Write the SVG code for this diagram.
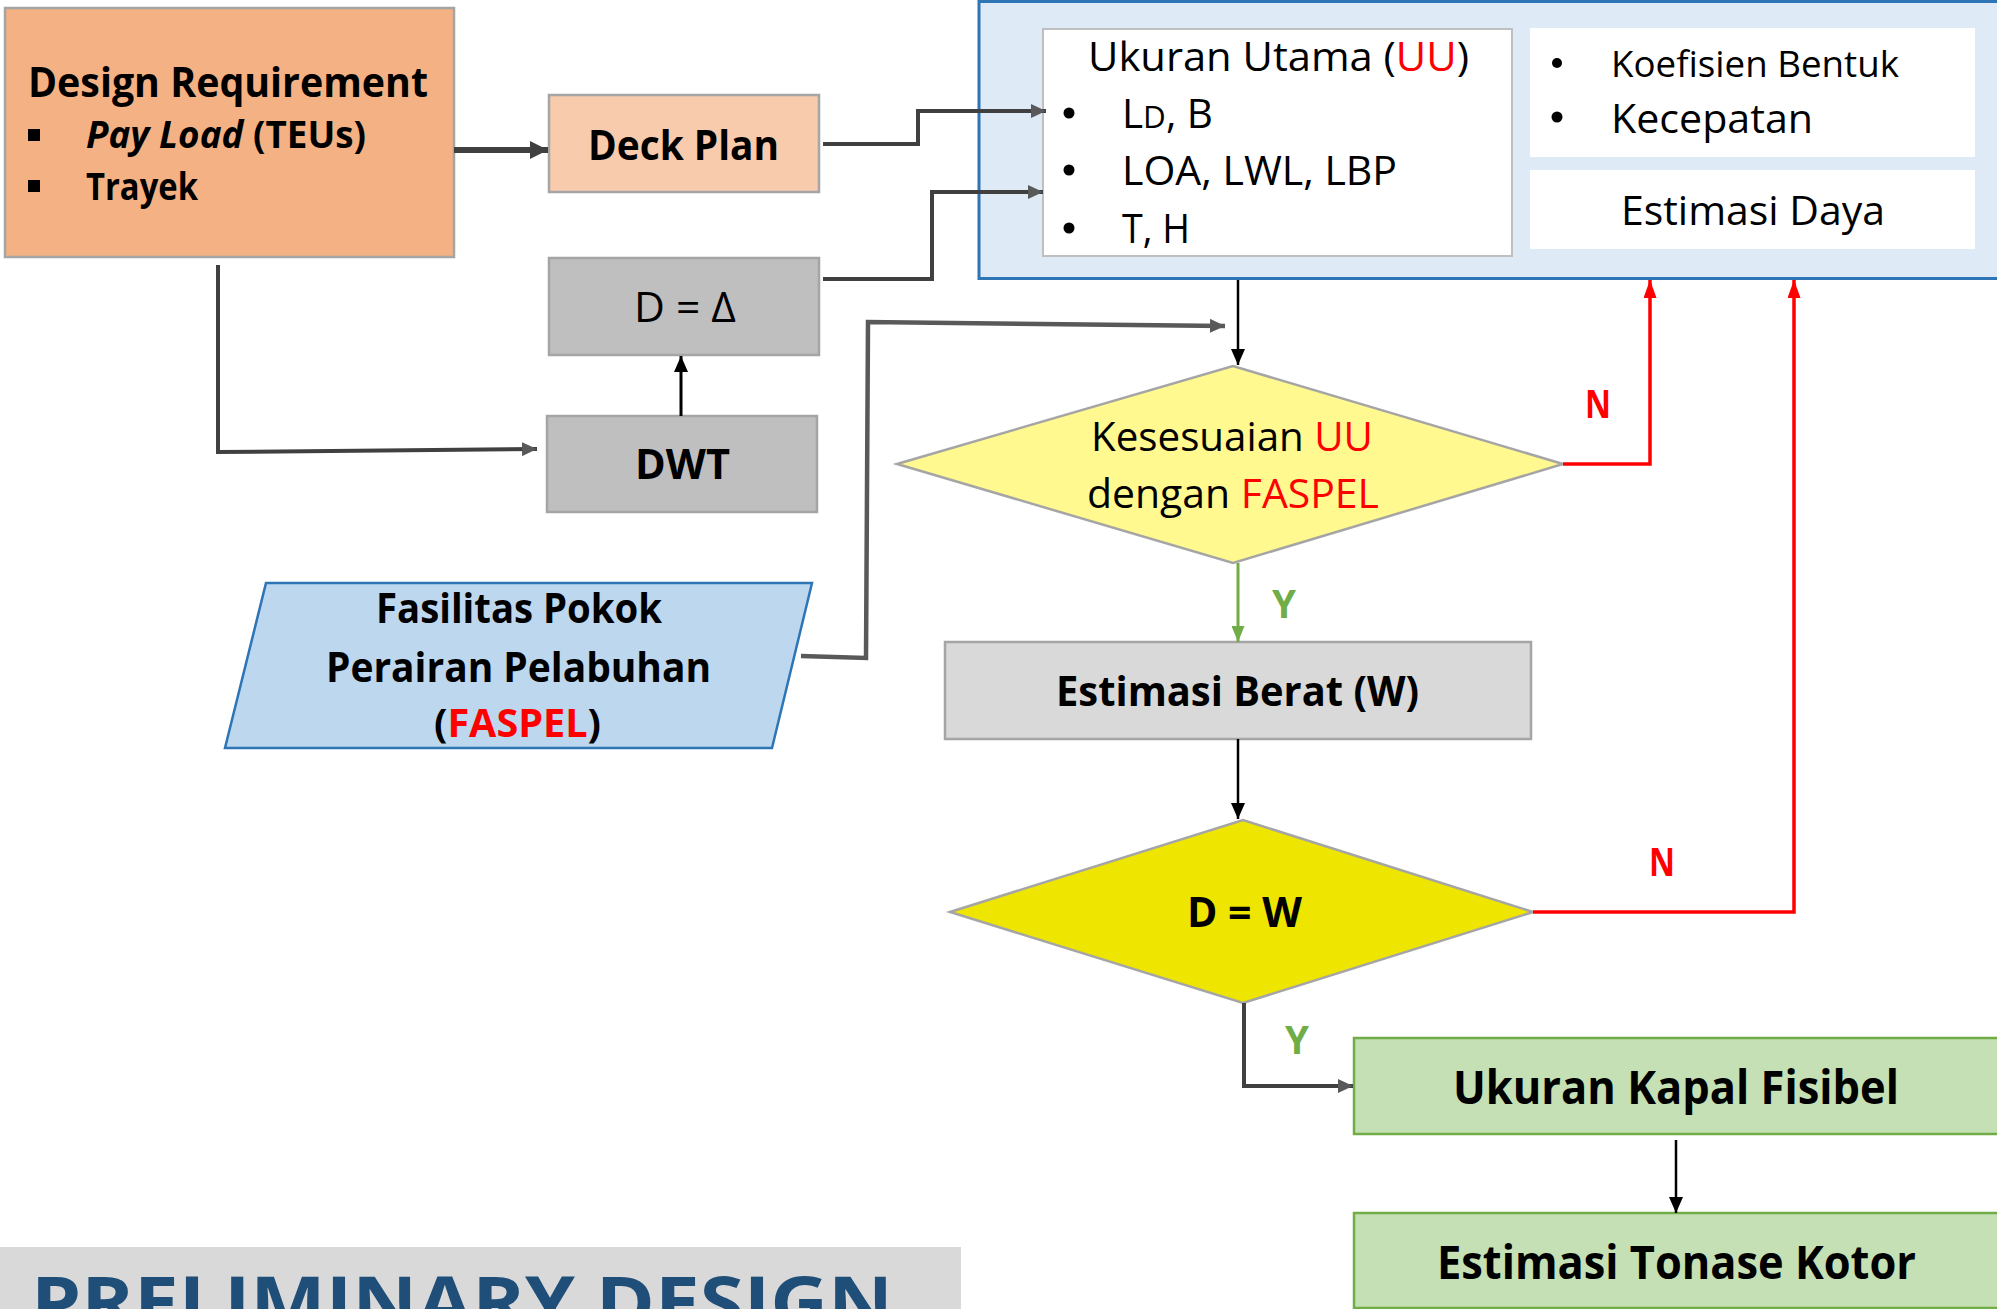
<svg xmlns="http://www.w3.org/2000/svg" width="1997" height="1309" viewBox="0 0 1997 1309">
<style>
text{font-family:"Open Sans","Noto Sans","Liberation Sans",sans-serif;fill:#000}
.b{font-weight:bold}
.red{fill:#FF0000}
.grn{fill:#70AD47}
.box{stroke:#A5A5A5;stroke-width:2.5}
.c{fill:none;stroke-linejoin:miter}
</style>
<defs>
<marker id="aBlk" markerUnits="userSpaceOnUse" markerWidth="16" markerHeight="14" refX="16" refY="7" orient="auto"><path d="M0,0 L16,7 L0,14 z" fill="#000"/></marker>
<marker id="aGry" markerUnits="userSpaceOnUse" markerWidth="18" markerHeight="18" refX="18" refY="9" orient="auto"><path d="M0,0 L18,9 L0,18 z" fill="#404040"/></marker>
<marker id="aGry2" markerUnits="userSpaceOnUse" markerWidth="15" markerHeight="14" refX="15" refY="7" orient="auto"><path d="M0,0 L15,7 L0,14 z" fill="#595959"/></marker>
<marker id="aRed" markerUnits="userSpaceOnUse" markerWidth="18" markerHeight="13" refX="18" refY="6.5" orient="auto"><path d="M0,0 L18,6.5 L0,13 z" fill="#FF0000"/></marker>
<marker id="aGrn" markerUnits="userSpaceOnUse" markerWidth="16" markerHeight="13" refX="16" refY="6.5" orient="auto"><path d="M0,0 L16,6.5 L0,13 z" fill="#70AD47"/></marker>
</defs>
<rect width="1997" height="1309" fill="#fff"/>

<g id="design-requirement">
<rect x="5" y="8" width="449" height="249" fill="#F4B183" class="box"/>
<text x="28" y="97" font-size="42" class="b" textLength="400" lengthAdjust="spacingAndGlyphs">Design Requirement</text>
<rect x="28" y="129" width="12" height="12" fill="#000"/>
<text x="86" y="148" font-size="38" class="b" textLength="280" lengthAdjust="spacingAndGlyphs"><tspan font-style="italic">Pay Load</tspan> (TEUs)</text>
<rect x="28" y="180" width="12" height="12" fill="#000"/>
<text x="86" y="200" font-size="38" class="b" textLength="112" lengthAdjust="spacingAndGlyphs">Trayek</text>
</g>

<g id="deck-plan">
<rect x="549" y="95" width="270" height="97" fill="#F8CBAD" class="box"/>
<text x="588" y="160" font-size="42" class="b" textLength="191" lengthAdjust="spacingAndGlyphs">Deck Plan</text>
</g>

<g id="d-delta">
<rect x="549" y="258" width="270" height="97" fill="#BFBFBF" class="box"/>
<text x="634" y="322" font-size="42" textLength="102" lengthAdjust="spacingAndGlyphs">D = Δ</text>
</g>

<g id="dwt">
<rect x="547" y="416" width="270" height="96" fill="#BFBFBF" class="box"/>
<text x="635" y="479" font-size="42" class="b" textLength="95" lengthAdjust="spacingAndGlyphs">DWT</text>
</g>

<g id="ukuran-utama-container">
<rect x="979" y="1.5" width="1030" height="277" fill="#DEEBF7" stroke="#2E75B6" stroke-width="3"/>
<rect x="1043" y="29" width="469" height="227" fill="#fff" stroke="#BFBFBF" stroke-width="2"/>
<text x="1088" y="71" font-size="40" textLength="381" lengthAdjust="spacingAndGlyphs">Ukuran Utama (<tspan class="red">UU</tspan>)</text>
<circle cx="1069" cy="113" r="5.5" fill="#000"/>
<text x="1122" y="128" font-size="40" textLength="91" lengthAdjust="spacingAndGlyphs">L<tspan font-size="31">D</tspan>, B</text>
<circle cx="1069" cy="170" r="5.5" fill="#000"/>
<text x="1122" y="185" font-size="40" textLength="275" lengthAdjust="spacingAndGlyphs">LOA, LWL, LBP</text>
<circle cx="1069" cy="228" r="5.5" fill="#000"/>
<text x="1122" y="243" font-size="40" textLength="68" lengthAdjust="spacingAndGlyphs">T, H</text>
<rect x="1530" y="28" width="445" height="129" fill="#fff"/>
<circle cx="1557" cy="63" r="5" fill="#000"/>
<text x="1611" y="77" font-size="36" textLength="288" lengthAdjust="spacingAndGlyphs">Koefisien Bentuk</text>
<circle cx="1557" cy="117" r="5.5" fill="#000"/>
<text x="1611" y="133" font-size="40" textLength="202" lengthAdjust="spacingAndGlyphs">Kecepatan</text>
<rect x="1530" y="170" width="445" height="79" fill="#fff"/>
<text x="1621" y="225" font-size="40" textLength="264" lengthAdjust="spacingAndGlyphs">Estimasi Daya</text>
</g>

<g id="kesesuaian">
<polygon points="897,464 1233,366 1563,464 1233,563" fill="#FFF98F" stroke="#A5A5A5" stroke-width="2.5"/>
<text x="1091" y="451" font-size="40" textLength="282" lengthAdjust="spacingAndGlyphs">Kesesuaian <tspan class="red">UU</tspan></text>
<text x="1087" y="508" font-size="40" textLength="292" lengthAdjust="spacingAndGlyphs">dengan <tspan class="red">FASPEL</tspan></text>
</g>

<g id="faspel">
<polygon points="266,583 812,583 772,748 225,748" fill="#BDD7EE" stroke="#2E75B6" stroke-width="2.5"/>
<text x="376" y="623" font-size="42" class="b" textLength="286" lengthAdjust="spacingAndGlyphs">Fasilitas Pokok</text>
<text x="326" y="682" font-size="42" class="b" textLength="385" lengthAdjust="spacingAndGlyphs">Perairan Pelabuhan</text>
<text x="434" y="737" font-size="40" class="b" textLength="167" lengthAdjust="spacingAndGlyphs">(<tspan class="red">FASPEL</tspan>)</text>
</g>

<g id="estimasi-berat">
<rect x="945" y="642" width="586" height="97" fill="#D9D9D9" class="box"/>
<text x="1056" y="706" font-size="42" class="b" textLength="363" lengthAdjust="spacingAndGlyphs">Estimasi Berat (W)</text>
</g>

<g id="d-equals-w">
<polygon points="950,912 1243,820 1533,912 1243,1003" fill="#EEE600" stroke="#A5A5A5" stroke-width="2.5"/>
<text x="1187" y="927" font-size="42" class="b" textLength="115" lengthAdjust="spacingAndGlyphs">D = W</text>
</g>

<g id="ukuran-kapal-fisibel">
<rect x="1354" y="1038" width="660" height="96" fill="#C5E0B4" stroke="#70AD47" stroke-width="2.5"/>
<text x="1453" y="1104" font-size="46" class="b" textLength="446" lengthAdjust="spacingAndGlyphs">Ukuran Kapal Fisibel</text>
</g>

<g id="estimasi-tonase-kotor">
<rect x="1354" y="1213" width="660" height="95" fill="#C5E0B4" stroke="#70AD47" stroke-width="2.5"/>
<text x="1437" y="1279" font-size="46" class="b" textLength="479" lengthAdjust="spacingAndGlyphs">Estimasi Tonase Kotor</text>
</g>

<g id="title">
<rect x="0" y="1247" width="961" height="70" fill="#D9D9D9"/>
<text x="31" y="1328" font-size="72" class="b" style="fill:#1F4E79" textLength="862" lengthAdjust="spacingAndGlyphs">PRELIMINARY DESIGN</text>
</g>

<g id="connectors">
<path class="c" d="M454,150 H548" stroke="#404040" stroke-width="6" marker-end="url(#aGry)"/>
<path class="c" d="M218,265 V452 L537,449" stroke="#404040" stroke-width="4" marker-end="url(#aGry2)"/>
<path class="c" d="M681,416 V356" stroke="#000" stroke-width="3" marker-end="url(#aBlk)"/>
<path class="c" d="M823,144 H918 V111 H1046" stroke="#404040" stroke-width="4" marker-end="url(#aGry2)"/>
<path class="c" d="M823,279 H932 V192 H1043" stroke="#404040" stroke-width="4" marker-end="url(#aGry2)"/>
<path class="c" d="M1238,280 V365" stroke="#000" stroke-width="2.5" marker-end="url(#aBlk)"/>
<path class="c" d="M801,656 L866,658 L868,322 L1225,326" stroke="#595959" stroke-width="4.5" marker-end="url(#aGry2)"/>
<path class="c" d="M1563,464 H1650 V280" stroke="#FF0000" stroke-width="3.5" marker-end="url(#aRed)"/>
<path class="c" d="M1238,563 V642" stroke="#70AD47" stroke-width="3" marker-end="url(#aGrn)"/>
<path class="c" d="M1238,739 V819" stroke="#000" stroke-width="2.5" marker-end="url(#aBlk)"/>
<path class="c" d="M1533,912 H1794 V280" stroke="#FF0000" stroke-width="3.5" marker-end="url(#aRed)"/>
<path class="c" d="M1244,1003 V1086 H1353" stroke="#404040" stroke-width="4" marker-end="url(#aGry2)"/>
<path class="c" d="M1676,1140 V1213" stroke="#000" stroke-width="2.5" marker-end="url(#aBlk)"/>
</g>

<g id="labels">
<text x="1585" y="418" font-size="40" class="b red" textLength="26" lengthAdjust="spacingAndGlyphs">N</text>
<text x="1272" y="618" font-size="40" class="b grn" textLength="24" lengthAdjust="spacingAndGlyphs">Y</text>
<text x="1649" y="876" font-size="40" class="b red" textLength="26" lengthAdjust="spacingAndGlyphs">N</text>
<text x="1285" y="1054" font-size="40" class="b grn" textLength="24" lengthAdjust="spacingAndGlyphs">Y</text>
</g>
</svg>
